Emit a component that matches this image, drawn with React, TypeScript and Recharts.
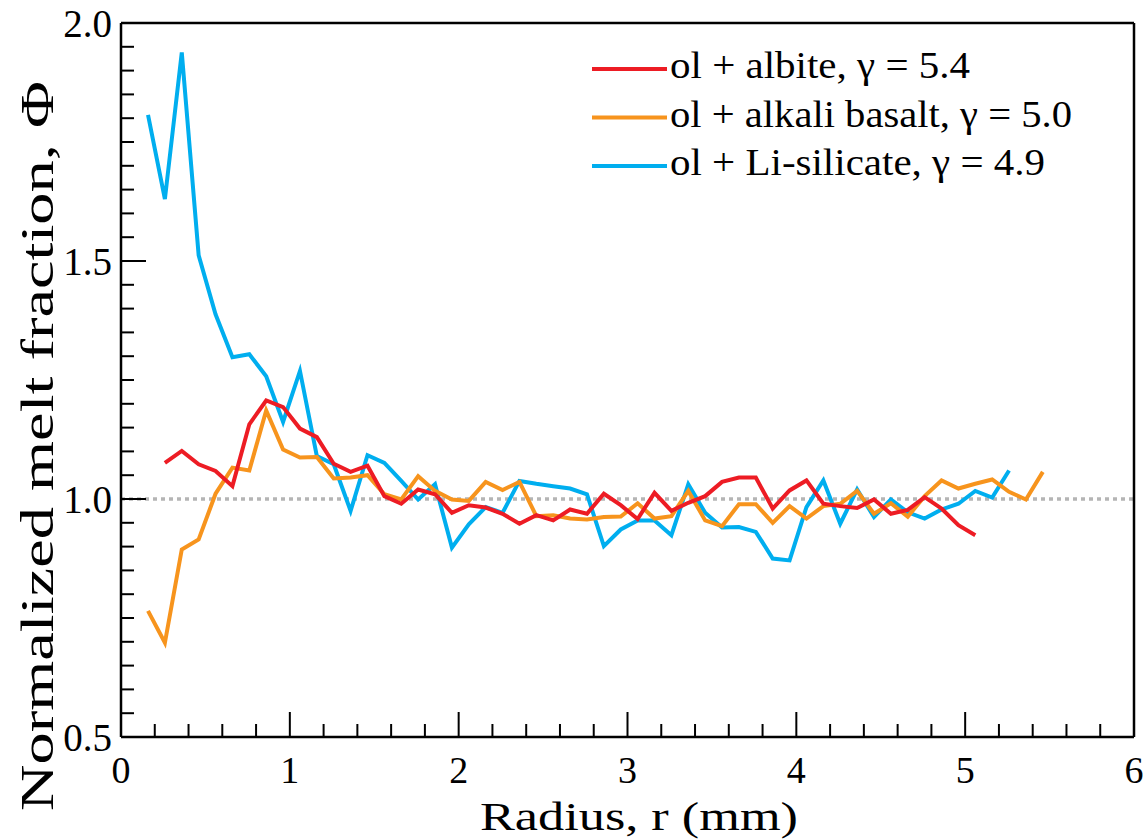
import React from "react"
import {
  LineChart,
  Line,
  XAxis,
  YAxis,
  ReferenceLine,
  Legend,
} from "recharts"

// radius (mm) of each sample bin
const radius = [
  0.16, 0.26, 0.36, 0.46, 0.56, 0.66, 0.76, 0.86, 0.96, 1.06, 1.16, 1.26, 1.36, 1.46,
  1.56, 1.66, 1.76, 1.86, 1.96, 2.06, 2.16, 2.26, 2.36, 2.46, 2.56, 2.66, 2.76, 2.86,
  2.96, 3.06, 3.16, 3.26, 3.36, 3.46, 3.56, 3.66, 3.76, 3.86, 3.96, 4.06, 4.16, 4.26,
  4.36, 4.46, 4.56, 4.66, 4.76, 4.86, 4.96, 5.06, 5.16, 5.26, 5.36, 5.46,
]

// ol + albite starts at the second bin
const albite = [
  1.076, 1.101, 1.073, 1.059, 1.027, 1.157, 1.207, 1.193, 1.148, 1.13, 1.074, 1.057,
  1.07, 1.006, 0.99, 1.02, 1.01, 0.971, 0.987, 0.982, 0.969, 0.948, 0.966, 0.955,
  0.978, 0.969, 1.011, 0.987, 0.958, 1.013, 0.975, 0.992, 1.006, 1.036, 1.045, 1.045,
  0.98, 1.018, 1.039, 0.99, 0.985, 0.981, 0.999, 0.969, 0.977, 1.004, 0.98, 0.945, 0.924,
]

const alkaliBasalt = [
  0.765, 0.698, 0.894, 0.915, 1.011, 1.066, 1.06, 1.186, 1.104, 1.087, 1.088, 1.043,
  1.045, 1.05, 1.01, 0.999, 1.048, 1.017, 0.999, 0.996, 1.036, 1.019, 1.036, 0.964,
  0.966, 0.959, 0.957, 0.962, 0.963, 0.991, 0.959, 0.964, 1.017, 0.955, 0.943, 0.989,
  0.989, 0.95, 0.985, 0.959, 0.985, 0.99, 1.017, 0.969, 0.991, 0.963, 1.006, 1.039,
  1.022, 1.032, 1.041, 1.015, 0.999, 1.057,
]

const liSilicate = [
  1.807, 1.63, 1.938, 1.512, 1.388, 1.298, 1.304, 1.258, 1.162, 1.269, 1.09, 1.073,
  0.975, 1.092, 1.076, 1.038, 0.999, 1.031, 0.898, 0.947, 0.983, 0.971, 1.038, 1.032,
  1.027, 1.022, 1.01, 0.901, 0.936, 0.955, 0.955, 0.924, 1.031, 0.971, 0.94, 0.941,
  0.931, 0.875, 0.871, 0.983, 1.039, 0.948, 1.02, 0.962, 0.999, 0.972, 0.959, 0.978,
  0.99, 1.017, 1.003, 1.06,
]

const seriesNames = [
  "ol + albite, γ = 5.4",
  "ol + alkali basalt, γ = 5.0",
  "ol + Li-silicate, γ = 4.9",
]

const xTicks = [
  0, 0.2, 0.4, 0.6, 0.8, 1, 1.2, 1.4, 1.6, 1.8, 2, 2.2, 2.4, 2.6, 2.8, 3, 3.2, 3.4,
  3.6, 3.8, 4, 4.2, 4.4, 4.6, 4.8, 5, 5.2, 5.4, 5.6, 5.8, 6,
]
const yTicks = [
  0.5, 0.55, 0.6, 0.65, 0.7, 0.75, 0.8, 0.85, 0.9, 0.95, 1, 1.05, 1.1, 1.15, 1.2, 1.25,
  1.3, 1.35, 1.4, 1.45, 1.5, 1.55, 1.6, 1.65, 1.7, 1.75, 1.8, 1.85, 1.9, 1.95, 2,
]
const yMajor = [0.5, 1, 1.5, 2]

const RED = "#ED1C24"
const ORANGE = "#F7941D"
const BLUE = "#00AEEF"
const FONT = '"Liberation Serif", Tinos, "Times New Roman", "DejaVu Serif Condensed", serif'
const serif = { fontFamily: FONT }

const albiteData = albite.map((phi, i) => ({ r: radius[i + 1], phi }))
const basaltData = alkaliBasalt.map((phi, i) => ({ r: radius[i], phi }))
const liData = liSilicate.map((phi, i) => ({ r: radius[i], phi }))

const isXMajor = (v: number) => Math.abs(v - Math.round(v)) < 1e-6
const isYMajor = (v: number) => yMajor.some((m) => Math.abs(m - v) < 1e-6)

function BottomTick(props: any) {
  const { x, y, payload } = props
  const major = isXMajor(payload.value)
  return (
    <g>
      <line x1={x} y1={y} x2={x} y2={y - (major ? 25 : 13)} stroke="#000" strokeWidth={2} />
      {major && (
        <text x={x} y={y + 46} textAnchor="middle" fontSize={38} style={serif} fill="#000">
          {Math.round(payload.value)}
        </text>
      )}
    </g>
  )
}

function TopTick(props: any) {
  const { x, y, payload } = props
  const major = isXMajor(payload.value)
  return <line x1={x} y1={y} x2={x} y2={y + (major ? 25 : 13)} stroke="#000" strokeWidth={2} />
}

function LeftTick(props: any) {
  const { x, y, payload } = props
  const major = isYMajor(payload.value)
  return (
    <g>
      <line x1={x} y1={y} x2={x + (major ? 25 : 13)} y2={y} stroke="#000" strokeWidth={2} />
      {major && (
        <text x={x - 9} y={y} dy="0.36em" textAnchor="end" fontSize={39} style={serif} fill="#000">
          {payload.value.toFixed(1)}
        </text>
      )}
    </g>
  )
}

function RightTick(props: any) {
  const { x, y, payload } = props
  const major = isYMajor(payload.value)
  return <line x1={x} y1={y} x2={x - (major ? 25 : 13)} y2={y} stroke="#000" strokeWidth={2} />
}

function XTitle() {
  return (
    <text x={639} y={830} textAnchor="middle" fontSize={40} style={serif} fill="#000"
      textLength={318} lengthAdjust="spacingAndGlyphs">
      Radius, r (mm)
    </text>
  )
}

function YTitle() {
  return (
    <text x={53} y={446} transform="rotate(-90 53 446)" textAnchor="middle" fontSize={46}
      style={serif} fill="#000" textLength={730} lengthAdjust="spacingAndGlyphs">
      Normalized melt fraction, Φ
    </text>
  )
}

const legendColors = [RED, ORANGE, BLUE]
const legendWidths = [300, 402, 375]

function LegendBox() {
  return (
    <svg width={520} height={150}>
      {seriesNames.map((name, i) => (
        <g key={name}>
          <line x1={7} y1={29 + i * 48.5} x2={82} y2={29 + i * 48.5} stroke={legendColors[i]} strokeWidth={4} />
          <text x={85} y={38 + i * 48.5} fontSize={37} style={serif} fill="#000"
            textLength={legendWidths[i]} lengthAdjust="spacingAndGlyphs">
            {name}
          </text>
        </g>
      ))}
    </svg>
  )
}

export default function App() {
  return (
    <div style={{ position: "absolute", left: 0, top: 0, width: 1145, height: 840, background: "#fff" }}>
      <LineChart width={1145} height={840} margin={{ top: 22, right: 10, bottom: 0, left: 0 }}>
        <XAxis
          dataKey="r"
          type="number"
          domain={[0, 6]}
          ticks={xTicks}
          interval={0}
          tick={<BottomTick />}
          tickLine={false}
          tickSize={0}
          tickMargin={0}
          height={103}
          axisLine={{ stroke: "#000", strokeWidth: 2.5 }}
          label={<XTitle />}
        />
        <XAxis
          xAxisId="top"
          orientation="top"
          dataKey="r"
          type="number"
          domain={[0, 6]}
          ticks={xTicks}
          interval={0}
          tick={<TopTick />}
          tickLine={false}
          tickSize={0}
          tickMargin={0}
          height={1}
          axisLine={{ stroke: "#000", strokeWidth: 2.5 }}
        />
        <YAxis
          type="number"
          domain={[0.5, 2]}
          ticks={yTicks}
          interval={0}
          tick={<LeftTick />}
          tickLine={false}
          tickSize={0}
          tickMargin={0}
          width={121}
          allowDataOverflow
          axisLine={{ stroke: "#000", strokeWidth: 2.5 }}
          label={<YTitle />}
        />
        <YAxis
          yAxisId="right"
          orientation="right"
          type="number"
          domain={[0.5, 2]}
          ticks={yTicks}
          interval={0}
          tick={<RightTick />}
          tickLine={false}
          tickSize={0}
          tickMargin={0}
          width={1}
          axisLine={{ stroke: "#000", strokeWidth: 2.5 }}
        />
        <ReferenceLine y={1} stroke="#b5b5b5" strokeWidth={3.5} strokeDasharray="4 4" />
        <Line data={liData} dataKey="phi" name={seriesNames[2]} type="linear" stroke={BLUE}
          strokeWidth={4} dot={false} isAnimationActive={false} />
        <Line data={basaltData} dataKey="phi" name={seriesNames[1]} type="linear" stroke={ORANGE}
          strokeWidth={4} dot={false} isAnimationActive={false} />
        <Line data={albiteData} dataKey="phi" name={seriesNames[0]} type="linear" stroke={RED}
          strokeWidth={4} dot={false} isAnimationActive={false} />
        <Legend
          layout="vertical"
          align="center"
          verticalAlign="middle"
          content={<LegendBox />}
          wrapperStyle={{ left: 585, top: 40, width: 520, height: 150 }}
        />
      </LineChart>
    </div>
  )
}
